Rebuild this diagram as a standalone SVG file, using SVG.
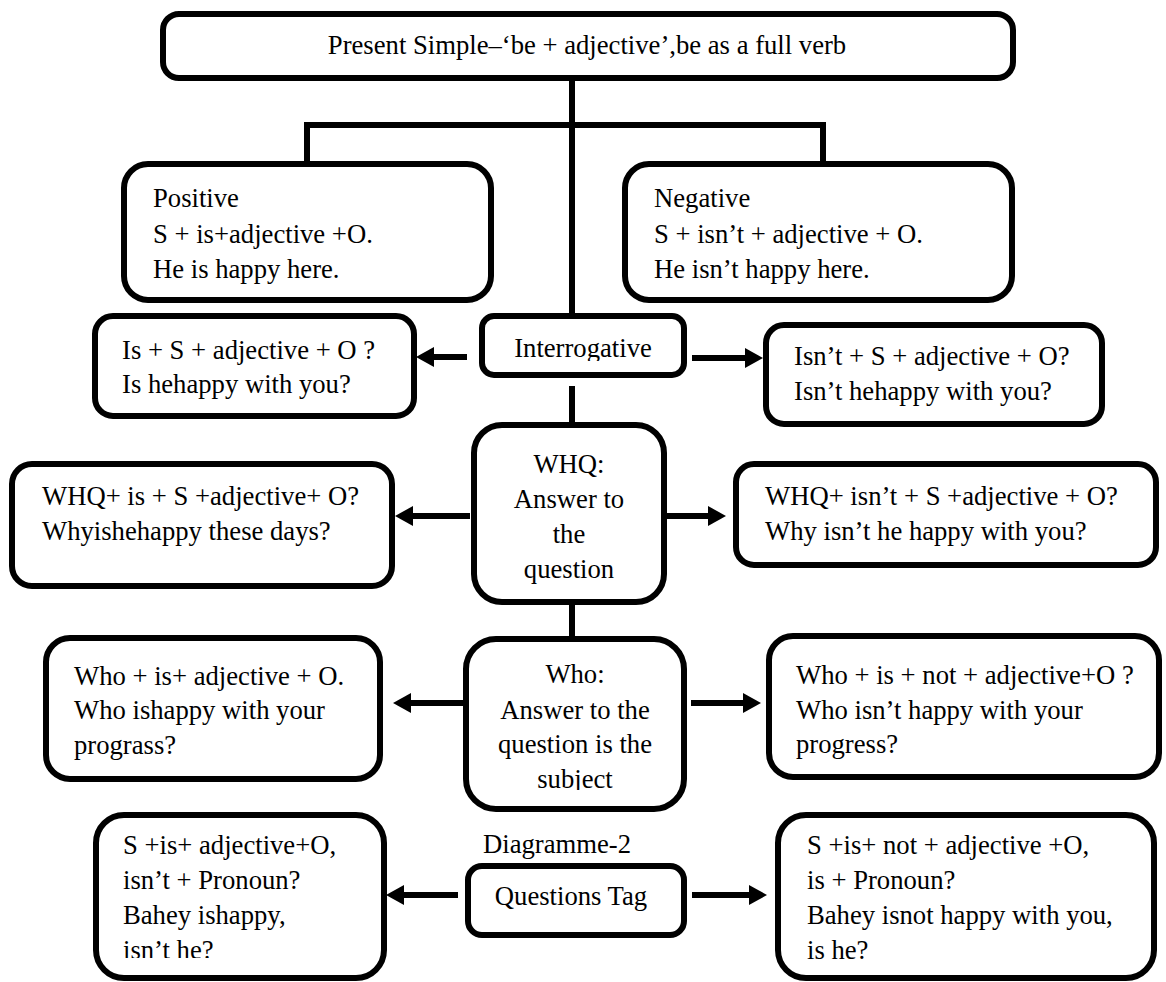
<svg xmlns="http://www.w3.org/2000/svg" width="1166" height="982" viewBox="0 0 1166 982">
<defs>
<style>
.box{fill:#fff;stroke:#000;stroke-width:6}
.ln{fill:none;stroke:#000;stroke-width:6}
text{font-family:"Liberation Serif","Times New Roman",serif;font-size:26.67px;fill:#000}
.c{text-anchor:middle}
</style>
<marker id="ah" markerUnits="userSpaceOnUse" viewBox="0 0 18 20" refX="8" refY="10" markerWidth="18" markerHeight="20" orient="auto">
<path d="M0,0 L18,10 L0,20 Z" fill="#000"/>
</marker>
<clipPath id="clipInt"><rect x="480" y="300" width="210" height="61"/></clipPath>
<clipPath id="clipWho"><rect x="460" y="630" width="230" height="160"/></clipPath>
<clipPath id="clipTagL"><rect x="90" y="810" width="300" height="148"/></clipPath>
<clipPath id="clipTagR"><rect x="770" y="810" width="396" height="152"/></clipPath>
</defs>
<rect width="1166" height="982" fill="#fff"/>
<g id="connectors">
<line class="ln" x1="572" y1="78" x2="572" y2="316"/>
<polyline class="ln" points="307,164 307,125 823,125 823,164"/>
<line class="ln" x1="572" y1="386" x2="572" y2="425"/>
<line class="ln" x1="572" y1="602" x2="572" y2="639"/>
<line class="ln" x1="467" y1="357" x2="426" y2="357" marker-end="url(#ah)"/>
<line class="ln" x1="692" y1="358" x2="753" y2="358" marker-end="url(#ah)"/>
<line class="ln" x1="470" y1="516" x2="405" y2="516" marker-end="url(#ah)"/>
<line class="ln" x1="667" y1="516" x2="716" y2="516" marker-end="url(#ah)"/>
<line class="ln" x1="463" y1="703" x2="403" y2="703" marker-end="url(#ah)"/>
<line class="ln" x1="691" y1="703" x2="751" y2="703" marker-end="url(#ah)"/>
<line class="ln" x1="458" y1="895" x2="396" y2="895" marker-end="url(#ah)"/>
<line class="ln" x1="692" y1="895" x2="757" y2="895" marker-end="url(#ah)"/>
</g>
<g id="title">
<rect class="box" x="163" y="14" width="850" height="64" rx="16"/>
<text class="c" x="587" y="54">Present Simple–‘be + adjective’,be as a full verb</text>
</g>
<g id="positive">
<rect class="box" x="124" y="164" width="367" height="136" rx="24"/>
<text x="153" y="207">Positive</text>
<text x="153" y="243">S + is+adjective +O.</text>
<text x="153" y="278">He is happy here.</text>
</g>
<g id="negative">
<rect class="box" x="625" y="164" width="387" height="136" rx="24"/>
<text x="654" y="207">Negative</text>
<text x="654" y="243">S + isn’t + adjective + O.</text>
<text x="654" y="278">He isn’t happy here.</text>
</g>
<g id="interrogative">
<rect class="box" x="482" y="316" width="202" height="59" rx="12"/>
<text class="c" x="583" y="357" clip-path="url(#clipInt)">Interrogative</text>
</g>
<g id="int-positive">
<rect class="box" x="95" y="316" width="319" height="100" rx="18"/>
<text x="122" y="359">Is + S + adjective + O ?</text>
<text x="122" y="393">Is hehappy with you?</text>
</g>
<g id="int-negative">
<rect class="box" x="766" y="325" width="336" height="99" rx="18"/>
<text x="794" y="365">Isn’t + S + adjective + O?</text>
<text x="794" y="400">Isn’t hehappy with you?</text>
</g>
<g id="whq">
<rect class="box" x="474" y="425" width="190" height="177" rx="28"/>
<text class="c" x="569" y="473">WHQ:</text>
<text class="c" x="569" y="508">Answer to</text>
<text class="c" x="569" y="543">the</text>
<text class="c" x="569" y="578">question</text>
</g>
<g id="whq-positive">
<rect class="box" x="12" y="464" width="380" height="122" rx="20"/>
<text x="42" y="505">WHQ+ is + S +adjective+ O?</text>
<text x="42" y="540">Whyishehappy these days?</text>
</g>
<g id="whq-negative">
<rect class="box" x="736" y="464" width="420" height="101" rx="18"/>
<text x="765" y="505">WHQ+ isn’t + S +adjective + O?</text>
<text x="765" y="540">Why isn’t he happy with you?</text>
</g>
<g id="who">
<rect class="box" x="466" y="639" width="218" height="170" rx="30"/>
<text class="c" x="575" y="683">Who:</text>
<text class="c" x="575" y="719">Answer to the</text>
<text class="c" x="575" y="753">question is the</text>
<text class="c" x="575" y="788" clip-path="url(#clipWho)">subject</text>
</g>
<g id="who-positive">
<rect class="box" x="46" y="638" width="334" height="141" rx="24"/>
<text x="74" y="685">Who + is+ adjective + O.</text>
<text x="74" y="719">Who ishappy with your</text>
<text x="74" y="754">prograss?</text>
</g>
<g id="who-negative">
<rect class="box" x="769" y="636" width="390" height="141" rx="24"/>
<text x="796" y="684">Who + is + not + adjective+O ?</text>
<text x="796" y="719">Who isn’t happy with your</text>
<text x="796" y="753">progress?</text>
</g>
<g id="caption">
<text x="483" y="853">Diagramme-2</text>
</g>
<g id="tag">
<rect class="box" x="468" y="866" width="216" height="69" rx="14"/>
<text class="c" x="571" y="905">Questions Tag</text>
</g>
<g id="tag-positive">
<rect class="box" x="96" y="815" width="288" height="163" rx="28"/>
<text x="123" y="854">S +is+ adjective+O,</text>
<text x="123" y="889">isn’t + Pronoun?</text>
<text x="123" y="924">Bahey ishappy,</text>
<text x="123" y="959" clip-path="url(#clipTagL)">isn’t he?</text>
</g>
<g id="tag-negative">
<rect class="box" x="778" y="815" width="376" height="163" rx="28"/>
<text x="807" y="854">S +is+ not + adjective +O,</text>
<text x="807" y="889">is + Pronoun?</text>
<text x="807" y="924">Bahey isnot happy with you,</text>
<text x="807" y="959" clip-path="url(#clipTagR)">is he?</text>
</g>
</svg>
